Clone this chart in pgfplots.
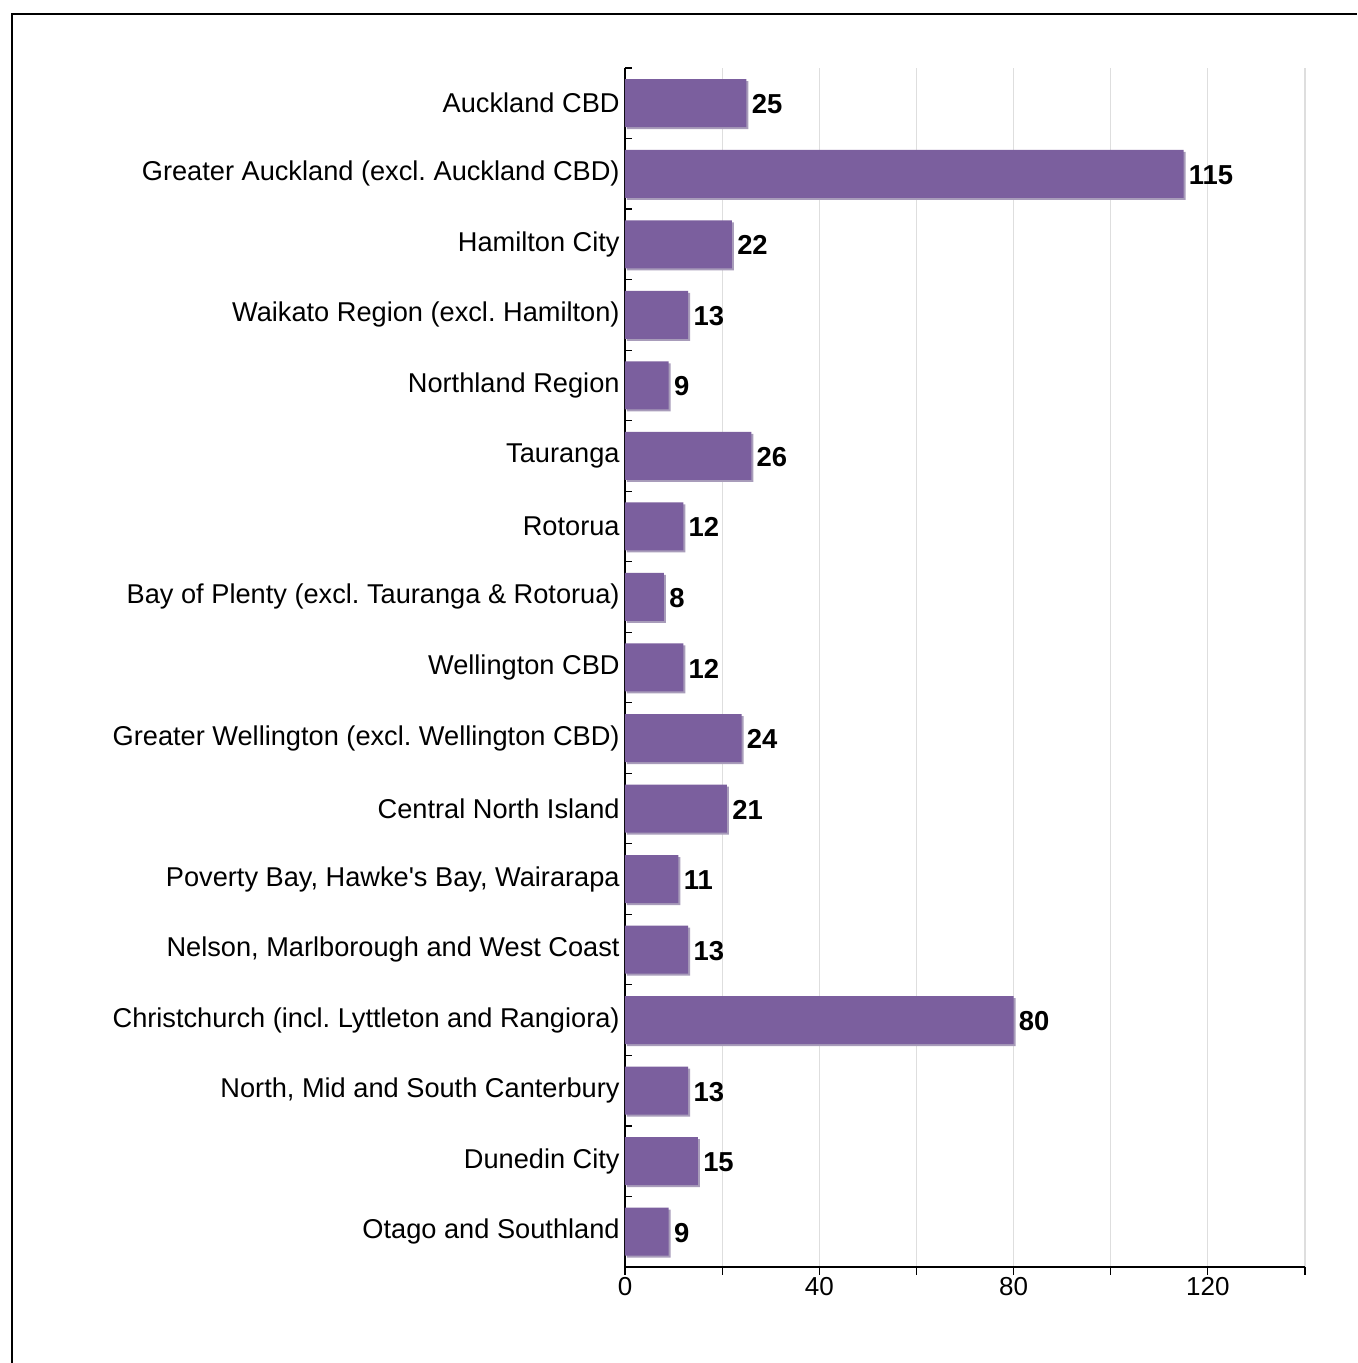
\documentclass[border=0pt]{standalone}
\usepackage{pgfplots}
\pgfplotsset{compat=1.18}
\usepackage{pgfplotstable}
\usepackage{fontspec}
\setmainfont{Liberation Sans}
\frenchspacing
\definecolor{barfill}{HTML}{7B5F9E}
\definecolor{barshadow}{HTML}{A89CBA}
\definecolor{gridc}{HTML}{DEDEDE}
\pgfplotstableread{
pos val
16 25
15 115
14 22
13 13
12 9
11 26
10 12
9 8
8 12
7 24
6 21
5 11
4 13
3 80
2 13
1 15
0 9
}\datatable
\begin{document}
\frenchspacing
\begin{tikzpicture}
\useasboundingbox (-312.5pt,-48pt) rectangle (366pt,633.5pt);
\fill[white] (-312.5pt,-48pt) rectangle (366pt,633.5pt);
\draw[line width=1pt] (-306.5pt,-48pt) -- (-306.5pt,626.5pt) -- (366pt,626.5pt);
\begin{axis}[
  at={(0,0)}, anchor=south west,
  scale only axis,
  width=340pt, height=599.5pt,
  xbar, bar width=24pt,
  xmin=0, xmax=140,
  ymin=-0.5, ymax=16.5,
  axis x line*=bottom, axis y line*=left,
  axis line style={line width=0.6pt},
  xtick={0,20,...,140},
  xticklabels={0,,40,,80,,120,},
  xmajorgrids, major x grid style={gridc, line width=0.6pt},
  ytick={0,...,16},
  yticklabels={Otago and Southland, Dunedin City, {North, Mid and South Canterbury}, Christchurch (incl. Lyttleton and Rangiora), {Nelson, Marlborough and West Coast}, {Poverty Bay, Hawke\textquotesingle s Bay, Wairarapa}, Central North Island, Greater Wellington (excl. Wellington CBD), Wellington CBD, Bay of Plenty (excl. Tauranga \& Rotorua), Rotorua, Tauranga, Northland Region, Waikato Region (excl. Hamilton), Hamilton City, Greater Auckland (excl. Auckland CBD), Auckland CBD},
  minor ytick={-0.5,0.5,...,16.5},
  tick align=outside,
  major tick length=4pt,
  minor tick length=3.5pt,
  major y tick style={draw=none},
  minor y tick style={xshift=3.5pt, line width=0.6pt, black},
  major x tick style={line width=0.6pt, black},
  y tick label style={font=\fontsize{13.6}{16}\selectfont, inner sep=0pt, xshift=1.5pt},
  x tick label style={font=\fontsize{13}{15}\selectfont, inner sep=1pt},
  /pgf/number format/assume math mode=true,
  clip=false,
]
\addplot[fill=barshadow, draw=none, bar shift=0pt, xshift=1pt, yshift=-1pt] table[x=val, y=pos] {\datatable};
\addplot[fill=barfill, draw=none, bar shift=0pt,
  nodes near coords, nodes near coords align={horizontal},
  every node near coord/.append style={font=\bfseries\fontsize{13.7}{16}\selectfont, black, inner sep=2.5pt, yshift=-0.5pt}]
  table[x=val, y=pos] {\datatable};
\end{axis}
\end{tikzpicture}
\end{document}
